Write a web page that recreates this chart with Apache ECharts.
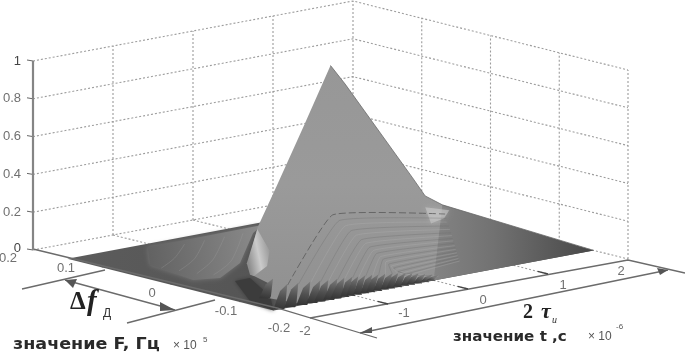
<!DOCTYPE html>
<html><head><meta charset="utf-8">
<style>html,body{margin:0;padding:0;background:#fff}#c{width:685px;height:356px;filter:blur(0.55px)}</style>
<script src="https://cdn.jsdelivr.net/npm/echarts@6/dist/echarts.min.js"></script>
</head><body><div id="c"></div>
<script>
// ---- axis ticks ----
const tTicks = [-2, -1, 0, 1, 2];
const fTicks = [0.2, 0.1, 0, -0.1, -0.2];
const zTicks = [0, 0.2, 0.4, 0.6, 0.8, 1];
const tLabels = ['-2', '-1', '0', '1', '2'];
const fLabels = ['0.2', '0.1', '0', '-0.1', '-0.2'];
const zLabels = ['0', '0.2', '0.4', '0.6', '0.8', '1'];

// ---- surface outlines, each point [t, F, z] ----
const floorWhole = [[-2, .15, 0], [2, .15, 0], [2, -.15, 0], [-2, -.15, 0]];
const floorLightPart = [[-1.1, .138, 0], [.35, .14, 0], [.059, .1195, 0], [-.889, .0281, 0], [-1.46, -.0093, 0], [-1.711, .0009, 0], [-1.59, .0775, 0]];
const floorDarkFoot = [[-1.439, -.0285, 0], [-1.246, -.028, 0], [-1.616, -.1, 0], [-2, -.15, 0], [-1.902, -.104, 0]];
const mainLobe = [[0, 0, 1], [.26, .009, .873], [1.473, .052, .241], [1.69, .059, .122], [2, .07, .04], [0, -.15, 0], [-1.6, -.15, 0], [-1.687, -.105, 0], [-1.26, -.0557, 0], [-1.146, -.0192, 0], [-1.47, -.051, .11], [-1.31, -.046, .286], [-.955, -.033, .47], [-.5, -.018, .725]];
const rightTail = [[2, .07, .04], [2, -.15, 0], [0, -.15, 0], [.6, -.02, 0]];
const lightEdge = [[-1.31, -.046, .28], [-1.02, -.03, .13], [-1.05, -.03, .05], [-1.214, -.03, .01], [-1.264, -.03, .02], [-1.39, -.04, .1]];
const lightSpot = [[1.7, .06, .06], [2, .06, .02], [1.85, .05, 0], [1.6, .04, 0]];
const rightRidge = [[0, 0, 1], [.26, .009, .873], [1.473, .052, .241], [1.69, .059, .122], [2, .07, .04], [2, -.15, 0]];
const floorRipples = [
  [[-.25, .125, 0], [-1.0, .055, 0], [-1.5, .02, 0]],
  [[-.5, .125, 0], [-1.1, .07, 0], [-1.55, .04, 0]],
  [[-.75, .125, 0], [-1.22, .085, 0], [-1.6, .06, 0]],
  [[-.02, .125, 0], [-.9, .04, 0], [-1.42, .005, 0]]
];

// ---- side-lobe teeth along the front edge ----
const toothT = [-1.687, -1.895, -1.757, -1.607, -1.482, -1.382, -1.27, -1.182, -1.082, -1.007, -.92, -.832, -.757, -.67, -.582, -.507, -.42, -.332, -.257, -.17, -.083, -.008];
const toothF = [-.105, -.15, -.15, -.15, -.15, -.15, -.15, -.15, -.15, -.15, -.15, -.15, -.15, -.15, -.15, -.15, -.15, -.15, -.15, -.15, -.15, -.15];
const toothZ = [.09, .12, .115, .11, .105, .1, .098, .096, .094, .09, .088, .084, .08, .077, .072, .068, .06, .052, .045, .036, .026, .018];

// ---- side-lobe rings: start on a tooth, bend at an apex, run to a right bend ----
const ringApexT = [1.144, 1.029, .926, .824, .734, .644, .568, .491, .427, .363, .299, .247, .196, .145, .106, .068, .03, -.009, -.047, -.086, -.111];
const ringApexF = [.13, .107, .086, .066, .048, .03, .015, 0, -.013, -.025, -.038, -.048, -.058, -.068, -.076, -.084, -.091, -.099, -.107, -.114, -.119];
const ringBendT = [1.974, 1.86, 1.759, 1.658, 1.57, 1.482, 1.406, 1.33, 1.267, 1.204, 1.141, 1.091, 1.04, .99, .952, .914, .876, .838, .8, .762, .737];
const ringBendF = [.063, .048, .035, .021, .009, -.003, -.013, -.023, -.031, -.04, -.048, -.055, -.061, -.068, -.073, -.078, -.083, -.088, -.093, -.098, -.102];

// ---- oblique view of the box ----
function project(p) {
  return [330.5 + 80 * p[0] - 687.5 * p[1], 254.5 - 15 * p[0] - 172.5 * p[1] - 189 * p[2]];
}
const lin = (x0, y0, x1, y1, c0, c1, c2) => new echarts.graphic.LinearGradient(x0, y0, x1, y1,
  c2 ? [{offset: 0, color: c0}, {offset: .5, color: c1}, {offset: 1, color: c2}] : [{offset: 0, color: c0}, {offset: 1, color: c1}]);

// grid lines in the box
const gridStyle = {stroke: '#9c9c9c', lineWidth: 1.1, lineDash: [2, 2]};
const wallLines = [];
zTicks.forEach(z => wallLines.push([[-2, .2, z], [2, .2, z], [2, -.2, z]]));
tTicks.forEach(t => wallLines.push([[t, .2, 0], [t, .2, 1]]));
fTicks.slice(1).forEach(f => wallLines.push([[2, f, 0], [2, f, 1]]));
const floorLines = [];
tTicks.slice(1, 4).forEach(t => floorLines.push([[t, .2, 0], [t, -.2, 0]]));
fTicks.slice(1, 4).forEach(f => floorLines.push([[-2, f, 0], [2, f, 0]]));

// surface polygons in painter's order
const surfacePieces = [
  {pts: floorWhole, fill: lin(0, 0, 1, 1, '#5c5c5c', '#4a4a4a')},
  {pts: floorLightPart, fill: lin(0, .4, 1, .2, '#626262', '#8b8b8b'), blur: 5},
  {pts: floorDarkFoot, fill: '#3c3c3c', blur: 4},
  {pts: rightTail, fill: lin(0, 0, 1, 0, '#8f8f8f', '#727272', '#474747')},
  {pts: mainLobe, fill: lin(0, 0, 0, 1, '#979797', '#9a9a9a', '#909090')},
  {pts: lightEdge, fill: lin(0, .55, 1, .45, '#8d8d8d', '#cbcbcb', '#9a9a9a')},
  {pts: lightSpot, fill: 'rgba(205,205,205,.55)', blur: 5}
];

// rings and teeth
const ringLines = ringApexT.map((a, i) => {
  const k = i + 1;
  const start = k < toothT.length ? [toothT[k] + .07, toothF[k], toothZ[k]] : [a, ringApexF[i], 0];
  return [start, [a, ringApexF[i], 0], [ringBendT[i], ringBendF[i], 0]];
});
const teeth = toothT.map((t, i) => {
  const w = i < 8 ? .075 : .05;
  const f = toothF[i];
  return [[t - w, f + .004, 0], [t, f - .003, 0], [t + w, f + .004, 0], [t + .1, f + .004, toothZ[i]], [t + .01, f + .004, toothZ[i] * .75]];
});

// captions and hand-drawn dimension lines, placed on the page
const sketchLines = [
  [[33, 249], [277, 308], [377, 338]],
  [[310, 318], [628, 260], [685, 273]],
  [[360, 333], [668, 270]],
  [[22, 289], [105, 270]],
  [[127, 323], [215, 300]],
  [[65, 280], [175, 310]]
];
const arrowHeads = [
  [[65, 280], [77, 279], [73, 288]],
  [[175, 310], [160, 302], [160, 311]],
  [[668, 270], [657, 268], [660, 275]],
  [[360, 333], [372, 327], [372, 333]]
];
const fOffsets = [[8, 258], [66, 268], [152, 293], [226, 311], [279, 328]];
const tOffsets = [[305, 331], [404, 313], [483, 300], [563, 285], [621, 271]];

function listSeries(list, render, z) {
  return {
    type: 'custom', coordinateSystem: 'cartesian2d', silent: true, clip: false, z: z,
    data: list.map((_, i) => [i]), encode: {x: 0, y: 0},
    animation: false,
    renderItem: (params, api) => render(list[params.dataIndex], api, params.dataIndex)
  };
}
const toScreen = (p, api) => api.coord(project(p));
const tickFont = '13px "Liberation Sans"';

const option = {
  animation: false,
  backgroundColor: '#fff',
  grid: {left: 0, right: 0, top: 0, bottom: 0},
  xAxis: {type: 'value', min: 0, max: 685, show: false},
  yAxis: {type: 'value', min: 0, max: 356, inverse: true, show: false},
  series: [
    listSeries(wallLines.concat(floorLines), (l, api) => ({type: 'polyline', shape: {points: l.map(p => toScreen(p, api))}, style: {...gridStyle, fill: null}}), 1),
    listSeries(surfacePieces, (s, api) => ({type: 'polygon', shape: {points: s.pts.map(p => toScreen(p, api))},
      style: {fill: s.fill, shadowBlur: s.blur || 0, shadowColor: s.blur ? (typeof s.fill === 'string' ? s.fill : '#777') : 'transparent'}}), 2),
    listSeries(floorRipples, (l, api) => ({type: 'polyline', shape: {points: l.map(p => toScreen(p, api)), smooth: .3}, style: {fill: null, stroke: '#a0a0a0', lineWidth: 1, opacity: .3}}), 3),
    listSeries(ringLines, (l, api, i) => ({type: 'polyline', shape: {points: l.map(p => toScreen(p, api)), smooth: .12},
      style: {fill: null, stroke: i === 0 ? '#5a5a5a' : (i % 2 ? '#6a6a6a' : '#b0b0b0'), lineWidth: 1, opacity: i === 0 ? .8 : .32, lineDash: i < 1 ? [7, 3] : null}}), 3),
    listSeries(teeth, (l, api) => ({type: 'polygon', shape: {points: l.map(p => toScreen(p, api))}, style: {fill: lin(0, 1, .3, 0, '#333333', '#505050', '#777777')}}), 4),
    listSeries([rightRidge], (l, api) => ({type: 'polyline', shape: {points: l.map(p => toScreen(p, api))}, style: {fill: null, stroke: '#6a6a6a', lineWidth: .8}}), 5),
    listSeries(sketchLines, (l, api) => ({type: 'polyline', shape: {points: l.map(p => api.coord(p))}, style: {fill: null, stroke: '#6b6b6b', lineWidth: 1.3}}), 6),
    listSeries(arrowHeads, (l, api) => ({type: 'polygon', shape: {points: l.map(p => api.coord(p))}, style: {fill: '#555'}}), 6),
    listSeries(zTicks, (z, api) => { const q = toScreen([-2, .2, z], api); return {type: 'polyline', shape: {points: [q, [q[0] - 6, q[1] - 1]]}, style: {fill: null, stroke: '#666', lineWidth: 1}}; }, 6),
    listSeries([[[-2, .2, 0], [-2, .2, 1]]], (l, api) => ({type: 'polyline', shape: {points: l.map(p => toScreen(p, api))}, style: {fill: null, stroke: '#858585', lineWidth: 2.2}}), 6),
    listSeries(tTicks.slice(1, 4), (t, api) => ({type: 'polyline', shape: {points: [toScreen([t, -.2, 0], api), toScreen([t, -.185, 0], api)]}, style: {fill: null, stroke: '#444', lineWidth: 1.4}}), 6),
    listSeries(zLabels, (s, api, i) => {
      const q = toScreen([-2, .2, zTicks[i]], api);
      return {type: 'text', x: 21, y: q[1] - (zTicks[i] === 0 ? 2 : 0), style: {text: s, fill: s === '1' || s === '0' ? '#444' : '#707070', font: tickFont, align: 'right', verticalAlign: 'middle'}};
    }, 7),
    listSeries(fLabels, (s, api, i) => ({type: 'text', x: fOffsets[i][0], y: fOffsets[i][1], style: {text: s, fill: '#707070', font: tickFont, align: 'center', verticalAlign: 'middle'}}), 7),
    listSeries(tLabels, (s, api, i) => ({type: 'text', x: tOffsets[i][0], y: tOffsets[i][1], style: {text: s, fill: '#707070', font: tickFont, align: 'center', verticalAlign: 'middle'}}), 7)
  ],
  graphic: {elements: [
    {type: 'text', x: 13, y: 345, z: 20, scaleX: 1.17, style: {text: 'значение F, Гц', fill: '#2a2a2a', font: 'bold 15px "DejaVu Sans"', verticalAlign: 'middle'}},
    {type: 'text', x: 173, y: 346, z: 20, style: {text: '× 10', fill: '#555', font: '12px "Liberation Sans"', verticalAlign: 'middle'}},
    {type: 'text', x: 203, y: 340, z: 20, style: {text: '5', fill: '#555', font: '8px "Liberation Sans"', verticalAlign: 'middle'}},
    {type: 'text', x: 453, y: 337, z: 20, scaleX: 1.08, style: {text: 'значение t ,с', fill: '#2a2a2a', font: 'bold 14px "DejaVu Sans"', verticalAlign: 'middle'}},
    {type: 'text', x: 588, y: 337, z: 20, style: {text: '× 10', fill: '#555', font: '12px "Liberation Sans"', verticalAlign: 'middle'}},
    {type: 'text', x: 616, y: 327, z: 20, style: {text: '-6', fill: '#555', font: '8px "Liberation Sans"', verticalAlign: 'middle'}},
    {type: 'text', x: 523, y: 313, z: 20, style: {text: '2', fill: '#222', font: 'bold 20px "Liberation Serif"', verticalAlign: 'middle'}},
    {type: 'text', x: 541, y: 312, z: 20, style: {text: 'τ', fill: '#222', font: 'italic bold 22px "Liberation Serif"', verticalAlign: 'middle'}},
    {type: 'text', x: 552, y: 320, z: 20, style: {text: 'и', fill: '#333', font: 'italic 10px "Liberation Serif"', verticalAlign: 'middle'}},
    {type: 'text', x: 70, y: 303, z: 20, style: {text: 'Δ', fill: '#222', font: 'bold 25px "Liberation Serif"', verticalAlign: 'middle'}},
    {type: 'text', x: 87, y: 303, z: 20, style: {text: 'f', fill: '#222', font: 'italic bold 29px "Liberation Serif"', verticalAlign: 'middle'}},
    {type: 'text', x: 103, y: 314, z: 20, style: {text: 'Д', fill: '#333', font: '12px "Liberation Sans"', verticalAlign: 'middle'}}
  ]}
};
echarts.init(document.getElementById('c')).setOption(option);
</script></body></html>
